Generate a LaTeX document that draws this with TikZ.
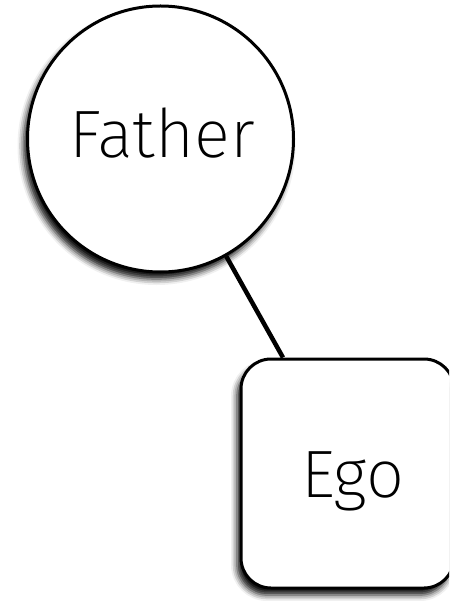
\documentclass[tikz,border=0pt]{standalone}
\usepackage{fontspec}
\setmainfont{Fira Sans}[UprightFont=* ExtraLight]
\usetikzlibrary{shadows.blur,backgrounds}
\tikzset{
  person/.style={draw=black, line width=3pt, fill=white,
    blur shadow={shadow xshift=-4pt, shadow yshift=-7pt, shadow blur radius=6pt, shadow opacity=95}},
  label/.style={font=\fontsize{67}{67}\selectfont, inner sep=0pt},
  link/.style={line width=4.5pt, black}
}
\begin{document}
\begin{tikzpicture}[x=1pt,y=-1pt]
\useasboundingbox (0,0) rectangle (449,601);
\clip (0,0) rectangle (449,601);
\node[person, circle, minimum size=266pt, inner sep=0pt] (father) at (160.5,139) {};
\node[person, rectangle, rounded corners=30pt, minimum width=213pt, minimum height=229pt, inner sep=0pt] (ego) at (347.5,473.5) {};
\node[label, anchor=base] (fathertxt) at (162,158) {Father};
\node[label, anchor=base] (egotxt) at (352.5,497) {Ego};
\begin{scope}[on background layer]
\draw[link] (father) -- (ego);
\end{scope}
\end{tikzpicture}
\end{document}
